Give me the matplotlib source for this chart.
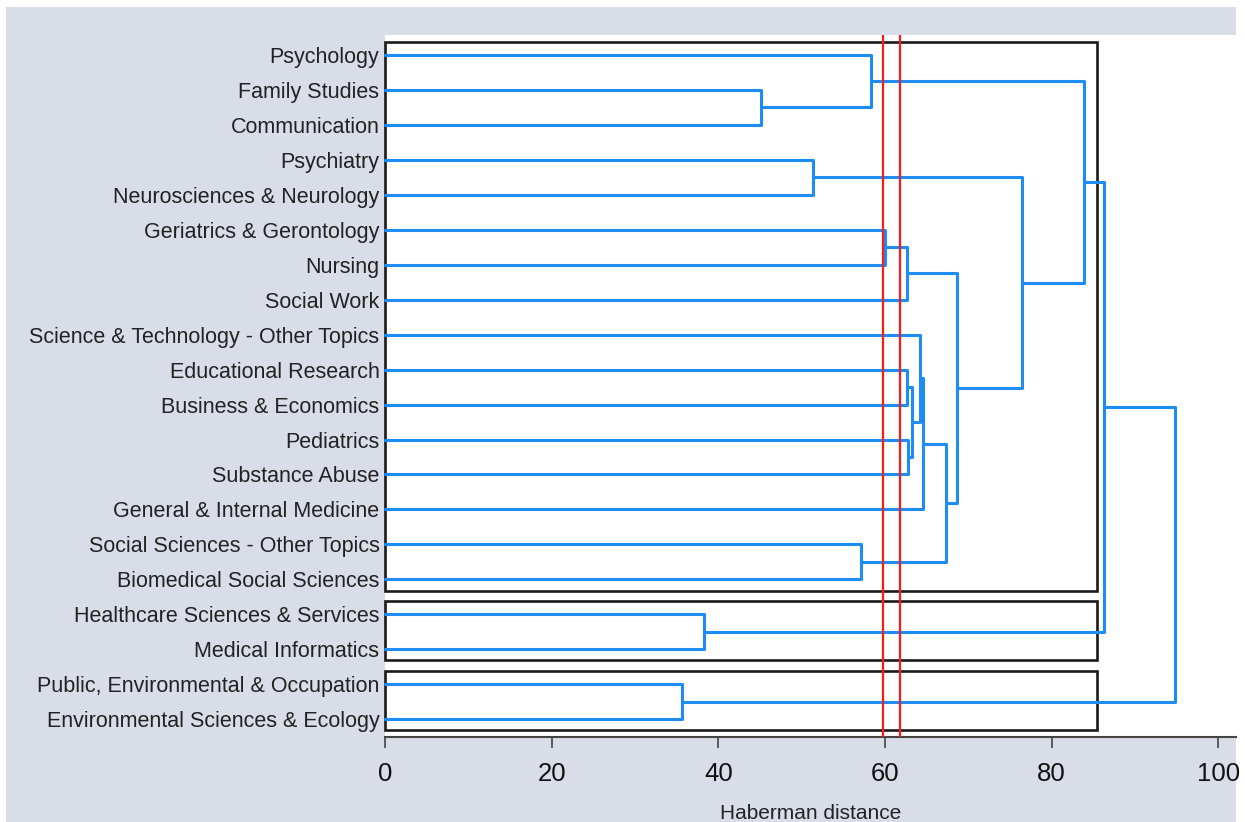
import matplotlib
matplotlib.use("Agg")
import matplotlib.pyplot as plt
from matplotlib.patches import Rectangle

plt.rcParams['font.family'] = ['Liberation Sans', 'DejaVu Sans']

# ---- data ----
leaf_labels = [
    "Psychology", "Family Studies", "Communication", "Psychiatry",
    "Neurosciences & Neurology", "Geriatrics & Gerontology", "Nursing",
    "Social Work", "Science & Technology - Other Topics",
    "Educational Research", "Business & Economics", "Pediatrics",
    "Substance Abuse", "General & Internal Medicine",
    "Social Sciences - Other Topics", "Biomedical Social Sciences",
    "Healthcare Sciences & Services", "Medical Informatics",
    "Public, Environmental & Occupation", "Environmental Sciences & Ecology",
]
# merges: (left child, right child, Haberman distance); nodes >= 20 are earlier merges
merge_left = [1, 0, 3, 5, 23, 9, 11, 25, 8, 28, 14, 29, 24, 22, 21, 16, 34, 18, 36]
merge_right = [2, 20, 4, 6, 7, 10, 12, 26, 27, 13, 15, 30, 31, 32, 33, 17, 35, 19, 37]
merge_height = [45.1, 58.3, 51.4, 60.0, 62.6, 62.7, 62.8, 63.3, 64.2, 64.6,
                57.1, 67.3, 68.6, 76.5, 83.9, 38.3, 86.3, 35.7, 94.8]
cut_lines = [59.8, 61.8]
# cluster boxes: (first leaf, last leaf) and right edge distance
box_first = [0, 16, 18]
box_last = [15, 17, 19]
box_right = 85.4
x_ticks = [0, 20, 40, 60, 80, 100]

# ---- figure ----
W, H = 1245, 822
fig = plt.figure(figsize=(W / 100, H / 100), dpi=100, facecolor='white')
bg = '#d9dde8'
fig.patches.append(Rectangle((6 / W, 0), (1236 - 6) / W, (H - 7) / H,
                             transform=fig.transFigure, facecolor=bg,
                             edgecolor='none', zorder=-10))

ax = fig.add_axes([385 / W, (H - 737) / H, (1236 - 385) / W, (737 - 35) / H])
ax.set_facecolor('white')

n = len(leaf_labels)
pos = {i: float(i) for i in range(n)}
hgt = {i: 0.0 for i in range(n)}
blue = '#1e8cf5'
for k, (a, b, h) in enumerate(zip(merge_left, merge_right, merge_height)):
    node = n + k
    ya, yb = pos[a], pos[b]
    ax.plot([hgt[a], h, h, hgt[b]], [ya, ya, yb, yb], color=blue, lw=2.2,
            solid_joinstyle='round', solid_capstyle='round', zorder=3, clip_on=False)
    pos[node] = (ya + yb) / 2
    hgt[node] = h

for c in cut_lines:
    ax.axvline(c, color='#ff1a1a', lw=1.6, zorder=4)

for f, l in zip(box_first, box_last):
    ax.add_patch(Rectangle((0, f - 0.37), box_right, (l - f) + 0.37 + 0.32,
                           fill=False, edgecolor='#1a1a1a', lw=1.9, zorder=2,
                           clip_on=False))

ax.set_xlim(0, (1236 - 385) / (1218.3 - 385) * 100)
ax.set_ylim(19.51, -0.572)
ax.set_yticks(range(n))
ax.set_yticklabels(leaf_labels, fontsize=15.5, color='#222222')
ax.tick_params(axis='y', length=0, pad=4)
ax.set_xticks(x_ticks)
ax.set_xticklabels([str(t) for t in x_ticks], fontsize=18.5, color='#111111')
ax.tick_params(axis='x', length=8, width=1.2, color='#444444', pad=10)
for s in ['top', 'right', 'left']:
    ax.spines[s].set_visible(False)
ax.spines['bottom'].set_color('#444444')
ax.spines['bottom'].set_linewidth(1.5)
ax.set_xlabel('Haberman distance', fontsize=15, color='#222222', labelpad=13)

fig.savefig('out.png', dpi=100, facecolor=fig.get_facecolor())
